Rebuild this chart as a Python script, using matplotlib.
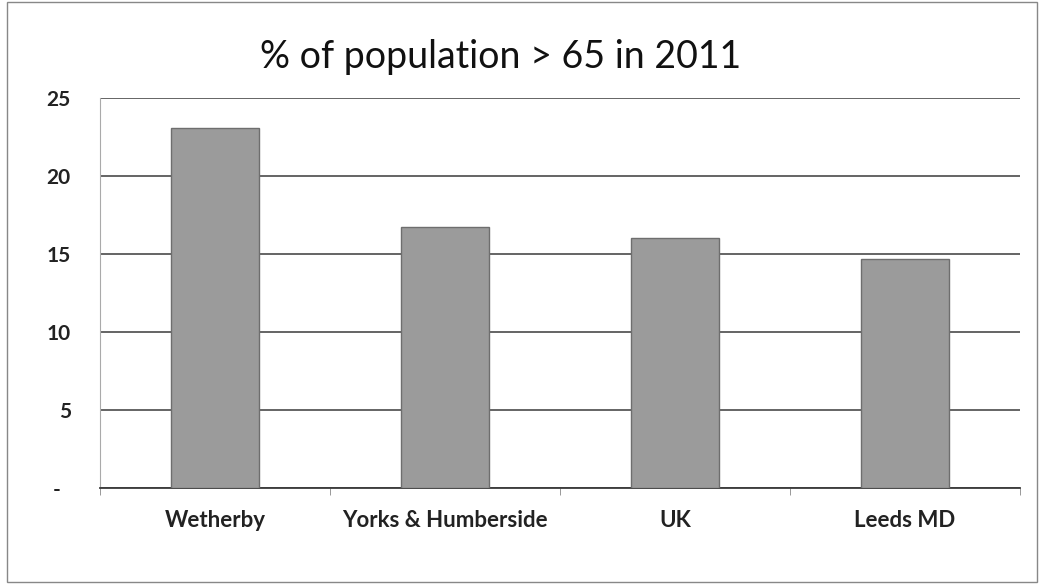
import matplotlib
matplotlib.use("Agg")
import matplotlib.pyplot as plt
from matplotlib.patches import Rectangle

plt.rcParams['font.family'] = ['Lato', 'DejaVu Sans']

# data
areas = ["Wetherby", "Yorks & Humberside", "UK", "Leeds MD"]
pct_over_65 = [23.1, 16.7, 16.0, 14.7]
y_ticks = [0, 5, 10, 15, 20, 25]
y_tick_labels = ["-  ", "5", "10", "15", "20", "25"]

fig = plt.figure(figsize=(10.42, 5.86), dpi=100)
ax = fig.add_axes([0.096, 0.167, 0.883, 0.666])

x = list(range(len(areas)))
ax.bar(x, pct_over_65, width=0.38, color="#9b9b9b", edgecolor="#6e6e6e", linewidth=1, zorder=3)

ax.set_xlim(-0.5, len(areas) - 0.5)
ax.set_ylim(0, 25)
ax.set_yticks(y_ticks)
ax.set_yticklabels(y_tick_labels, fontsize=15, fontweight="bold", color="#222222")
ax.set_xticks(x)
ax.set_xticklabels(areas, fontsize=16, fontweight="bold", color="#222222")
ax.tick_params(axis="y", length=0, pad=21)
ax.tick_params(axis="x", length=0, pad=16)

# category boundary ticks on the x axis
ax.set_xticks([i - 0.5 for i in range(len(areas) + 1)], minor=True)
ax.tick_params(axis="x", which="minor", length=5, color="#888888")

ax.grid(axis="y", color="#3a3a3a", linewidth=1.1, zorder=0)
for s in ["top", "right"]:
    ax.spines[s].set_visible(False)
ax.spines["left"].set_color("#aaaaaa")
ax.spines["bottom"].set_color("#3a3a3a")
ax.spines["bottom"].set_linewidth(1.3)

fig.text(0.48, 0.903, "% of population > 65 in 2011", ha="center", va="center",
         fontsize=27, color="#111111")

# outer chart border
fig.add_artist(Rectangle((0.007, 0.006), 0.988, 0.99, transform=fig.transFigure,
                         fill=False, edgecolor="#888888", linewidth=1))

fig.savefig("out.png", dpi=100)
